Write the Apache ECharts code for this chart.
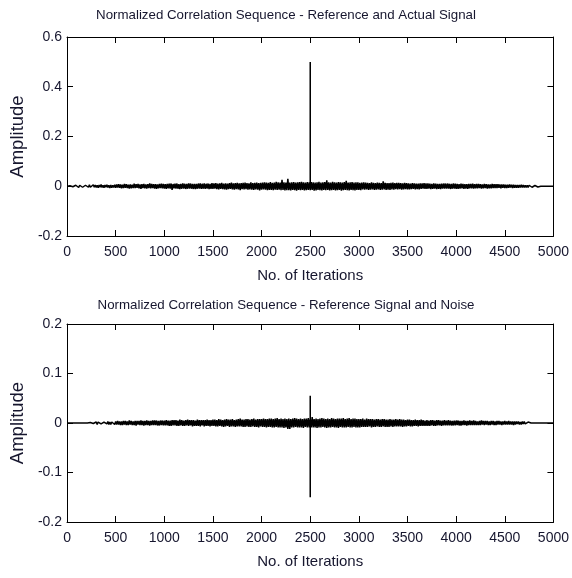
<!DOCTYPE html>
<html><head><meta charset="utf-8">
<script src="https://cdn.jsdelivr.net/npm/echarts@6/dist/echarts.min.js"></script>
<style>html,body{margin:0;padding:0;background:#fff}#c{width:572px;height:578px}</style>
</head><body><div id="c"></div>
<script>
// Iteration spacing of the read-off samples
const sampleStep = 10;
const actualNoise = [
 0.000,0.003,-0.004,0.002,-0.003,0.004,-0.002,0.005,-0.003,0.004,
 -0.004,0.003,-0.005,0.004,-0.003,0.005,-0.004,0.003,-0.006,0.004,
 -0.003,0.005,-0.004,0.006,-0.004,0.003,-0.005,0.006,-0.004,0.005,
 -0.005,0.004,-0.006,0.005,-0.004,0.007,-0.005,0.004,-0.006,0.005,
 -0.004,0.006,-0.005,0.004,-0.007,0.005,-0.006,0.004,-0.005,0.006,
 -0.006,0.007,-0.005,0.008,-0.006,0.007,-0.008,0.006,-0.007,0.009,
 -0.006,0.008,-0.007,0.006,-0.009,0.007,-0.008,0.006,-0.007,0.010,
 -0.007,0.008,-0.006,0.009,-0.008,0.007,-0.010,0.008,-0.007,0.009,
 -0.008,0.007,-0.009,0.008,-0.007,0.011,-0.008,0.009,-0.007,0.008,
 -0.009,0.008,-0.010,0.007,-0.008,0.009,-0.007,0.010,-0.008,0.009,
 -0.009,0.008,-0.010,0.009,-0.008,0.010,-0.009,0.011,-0.015,0.009,
 -0.008,0.010,-0.009,0.011,-0.010,0.008,-0.011,0.009,-0.010,0.012,
 -0.009,0.010,-0.011,0.009,-0.010,0.012,-0.009,0.011,-0.010,0.009,
 -0.011,0.010,-0.012,0.009,-0.010,0.011,-0.009,0.012,-0.011,0.010,
 -0.010,0.012,-0.011,0.010,-0.009,0.011,-0.012,0.010,-0.011,0.013,
 -0.011,0.012,-0.010,0.013,-0.012,0.011,-0.013,0.012,-0.011,0.014,
 -0.012,0.011,-0.013,0.012,-0.014,0.011,-0.012,0.013,-0.011,0.015,
 -0.013,0.012,-0.014,0.013,-0.012,0.014,-0.013,0.012,-0.016,0.013,
 -0.012,0.014,-0.013,0.015,-0.012,0.013,-0.014,0.012,-0.013,0.016,
 -0.014,0.013,-0.015,0.014,-0.013,0.015,-0.014,0.013,-0.017,0.014,
 -0.014,0.015,-0.013,0.016,-0.014,0.015,-0.016,0.014,-0.015,0.017,
 -0.015,0.014,-0.016,0.015,-0.014,0.018,-0.015,0.016,-0.014,0.015,
 -0.016,0.026,-0.015,0.016,-0.017,0.015,-0.016,0.030,-0.016,0.015,
 -0.017,0.016,-0.015,0.017,-0.016,0.015,-0.018,0.016,-0.015,0.017,
 -0.016,0.018,-0.015,0.016,-0.017,0.015,-0.016,0.017,-0.015,0.016,
 -0.016,0.017,-0.015,0.016,-0.018,0.015,-0.017,0.016,-0.015,0.018,
 -0.016,0.015,-0.017,0.016,-0.015,0.017,-0.016,0.024,-0.015,0.016,
 -0.017,0.015,-0.016,0.018,-0.015,0.016,-0.017,0.015,-0.016,0.017,
 -0.015,0.016,-0.018,0.015,-0.016,0.017,-0.015,0.022,-0.016,0.015,
 -0.017,0.016,-0.015,0.017,-0.016,0.015,-0.017,0.016,-0.015,0.016,
 -0.015,0.014,-0.016,0.015,-0.013,0.016,-0.014,0.015,-0.013,0.014,
 -0.015,0.013,-0.014,0.016,-0.013,0.014,-0.015,0.013,-0.014,0.015,
 -0.013,0.014,-0.015,0.013,-0.014,0.020,-0.013,0.014,-0.015,0.013,
 -0.014,0.013,-0.015,0.014,-0.013,0.015,-0.014,0.013,-0.012,0.014,
 -0.013,0.014,-0.012,0.013,-0.014,0.012,-0.013,0.014,-0.012,0.013,
 -0.013,0.012,-0.013,0.011,-0.012,0.013,-0.011,0.012,-0.013,0.011,
 -0.012,0.011,-0.013,0.012,-0.011,0.012,-0.010,0.013,-0.011,0.012,
 -0.011,0.012,-0.010,0.011,-0.012,0.010,-0.011,0.012,-0.010,0.011,
 -0.012,0.010,-0.011,0.010,-0.012,0.011,-0.010,0.011,-0.009,0.011,
 -0.010,0.011,-0.009,0.010,-0.011,0.009,-0.010,0.011,-0.009,0.010,
 -0.010,0.009,-0.010,0.008,-0.009,0.010,-0.008,0.009,-0.010,0.008,
 -0.009,0.008,-0.010,0.009,-0.008,0.009,-0.008,0.010,-0.009,0.008,
 -0.008,0.009,-0.008,0.009,-0.007,0.008,-0.009,0.007,-0.008,0.009,
 -0.007,0.008,-0.009,0.007,-0.008,0.007,-0.008,0.009,-0.007,0.008,
 -0.007,0.008,-0.007,0.008,-0.006,0.007,-0.008,0.007,-0.006,0.007,
 -0.007,0.006,-0.007,0.006,-0.006,0.007,-0.005,0.006,-0.007,0.006,
 -0.006,0.005,-0.006,0.005,-0.006,0.005,-0.005,0.006,-0.005,0.005,
 -0.005,0.004,-0.005,0.004,-0.005,0.004,-0.004,0.005,-0.004,0.004,
 -0.004,0.003,-0.004,0.003,-0.003,0.002,0.000,0.000,0.000,-0.005,
 0.000,0.000,0.000,0.000,0.000,0.000,0.000,0.000,0.000,0.000,
 0.000
];
const actualPeakAt = 2500;
const actualPeak = [0.5];

const noiseNoise = [
 0,0,0,0,0,0,0,0,0,0,
 0,0,0,0,0,0,0,0,0,0,
 0,0,0.002,-0.002,0.001,-0.002,0.002,-0.001,0.002,-0.002,
 0.002,-0.003,0.002,-0.002,0.003,-0.002,0.002,-0.003,0.002,-0.002,
 0.003,-0.002,0.003,-0.003,0.002,-0.003,0.002,-0.002,0.003,-0.003,
 0.003,-0.003,0.004,-0.003,0.003,-0.004,0.003,-0.004,0.004,-0.003,
 0.004,-0.004,0.003,-0.004,0.005,-0.003,0.004,-0.004,0.003,-0.004,
 0.004,-0.005,0.004,-0.003,0.004,-0.004,0.005,-0.004,0.004,-0.005,
 0.004,-0.004,0.005,-0.004,0.004,-0.005,0.004,-0.004,0.005,-0.004,
 0.005,-0.004,0.005,-0.005,0.004,-0.005,0.005,-0.004,0.005,-0.005,
 0.005,-0.005,0.006,-0.005,0.005,-0.006,0.005,-0.006,0.006,-0.005,
 0.006,-0.005,0.006,-0.006,0.005,-0.006,0.007,-0.005,0.006,-0.006,
 0.005,-0.006,0.006,-0.005,0.007,-0.006,0.006,-0.005,0.006,-0.007,
 0.006,-0.006,0.005,-0.006,0.007,-0.006,0.006,-0.007,0.006,-0.005,
 0.006,-0.007,0.006,-0.006,0.007,-0.006,0.006,-0.007,0.006,-0.006,
 0.007,-0.006,0.007,-0.007,0.006,-0.007,0.008,-0.006,0.007,-0.007,
 0.006,-0.008,0.007,-0.007,0.008,-0.006,0.007,-0.008,0.007,-0.007,
 0.008,-0.007,0.006,-0.008,0.007,-0.007,0.008,-0.007,0.009,-0.007,
 0.007,-0.008,0.007,-0.008,0.008,-0.007,0.008,-0.008,0.007,-0.008,
 0.008,-0.007,0.009,-0.008,0.007,-0.008,0.008,-0.009,0.008,-0.007,
 0.008,-0.008,0.009,-0.008,0.008,-0.009,0.008,-0.008,0.009,-0.008,
 0.009,-0.009,0.008,-0.009,0.009,-0.008,0.010,-0.009,0.008,-0.009,
 0.009,-0.009,0.008,-0.010,0.009,-0.009,0.008,-0.012,0.009,-0.012,
 0.008,-0.009,0.009,-0.009,0.010,-0.008,0.009,-0.009,0.008,-0.009,
 0.009,-0.009,0.008,-0.010,0.009,-0.008,0.009,-0.009,0.010,-0.009,
 0.009,-0.009,0.012,-0.009,0.008,-0.009,0.009,-0.010,0.008,-0.009,
 0.009,-0.009,0.010,-0.008,0.009,-0.009,0.008,-0.010,0.009,-0.009,
 0.008,-0.009,0.010,-0.008,0.009,-0.009,0.008,-0.009,0.009,-0.010,
 0.009,-0.008,0.009,-0.009,0.010,-0.009,0.008,-0.009,0.009,-0.008,
 0.010,-0.009,0.008,-0.009,0.009,-0.008,0.009,-0.009,0.008,-0.009,
 0.008,-0.009,0.008,-0.008,0.009,-0.008,0.007,-0.008,0.009,-0.008,
 0.008,-0.007,0.008,-0.009,0.008,-0.008,0.007,-0.008,0.008,-0.007,
 0.008,-0.008,0.007,-0.008,0.008,-0.007,0.008,-0.008,0.007,-0.008,
 0.007,-0.008,0.008,-0.007,0.007,-0.008,0.007,-0.007,0.008,-0.007,
 0.007,-0.007,0.008,-0.007,0.007,-0.008,0.007,-0.007,0.006,-0.007,
 0.007,-0.006,0.007,-0.007,0.006,-0.007,0.006,-0.006,0.007,-0.006,
 0.006,-0.007,0.006,-0.006,0.007,-0.006,0.006,-0.006,0.005,-0.006,
 0.006,-0.006,0.005,-0.006,0.006,-0.005,0.006,-0.006,0.005,-0.006,
 0.006,-0.005,0.006,-0.005,0.005,-0.006,0.005,-0.005,0.006,-0.005,
 0.005,-0.005,0.006,-0.005,0.005,-0.005,0.004,-0.005,0.005,-0.005,
 0.005,-0.004,0.005,-0.005,0.004,-0.005,0.004,-0.004,0.005,-0.004,
 0.004,-0.005,0.004,-0.004,0.005,-0.004,0.004,-0.004,0.005,-0.004,
 0.004,-0.004,0.003,-0.004,0.004,-0.004,0.005,-0.003,0.004,-0.004,
 0.004,-0.003,0.004,-0.004,0.003,-0.004,0.004,-0.003,0.004,-0.004,
 0.003,-0.004,0.004,-0.003,0.004,-0.003,0.003,-0.004,0.003,-0.003,
 0.004,-0.003,0.003,-0.003,0.004,-0.003,0.003,-0.003,0.003,-0.004,
 0.003,-0.003,0.003,-0.002,0.003,-0.003,0.002,-0.003,0.003,-0.002,
 0.003,-0.002,0.002,-0.003,0.002,-0.002,0.001,0,0,0,
 0,0,0,0,0,0,0,0,0,0,
 0,0,0,0,0,0,0,0,0,0,
 0
];
const noisePeakAt = 2500;
const noisePeak = [0.055, -0.15];

const titles = ['Normalized Correlation Sequence - Reference and Actual Signal',
                'Normalized Correlation Sequence - Reference Signal and Noise'];
const xLabel = 'No. of Iterations';
const yLabel = 'Amplitude';
const xTicks = [0, 500, 1000, 1500, 2000, 2500, 3000, 3500, 4000, 4500, 5000];
const yTicksTop = [-0.2, 0, 0.2, 0.4, 0.6];
const yTicksBottom = [-0.2, -0.1, 0, 0.1, 0.2];

function build(vals, peakAt, peaks) {
  const out = [];
  vals.forEach((v, i) => {
    const x = i * sampleStep;
    out.push([x, v]);
    if (x === peakAt) {
      peaks.forEach(p => out.push([x, p]));
      out.push([x, v]);
    }
  });
  return out;
}

const FONT = '"Liberation Sans Narrow", "Arial Narrow", "Liberation Sans", Arial, sans-serif';
const TXT = '#16162e';
const grids = [
  {left: 66, right: 16, top: 37, height: 199},
  {left: 66, right: 16, top: 324, height: 198}
];
const lineStyle = {color: '#000', width: 1};
function xAxes(g) {
  const base = {type: 'value', gridIndex: g, min: xTicks[0], max: xTicks[xTicks.length-1],
    interval: xTicks[1]-xTicks[0], splitLine: {show: false},
    axisLine: {show: true, onZero: false, lineStyle}, axisTick: {show: true, inside: true, length: 6, lineStyle}};
  return [
    Object.assign({}, base, {position: 'bottom', name: xLabel, nameLocation: 'middle', nameGap: 32,
      nameTextStyle: {fontFamily: FONT, fontSize: 15, color: TXT},
      axisLabel: {fontFamily: FONT, fontSize: 14, color: TXT, margin: 9, formatter: v => String(v)}}),
    Object.assign({}, base, {position: 'top', axisLabel: {show: false}})
  ];
}
function yAxes(g, ticks) {
  const base = {type: 'value', gridIndex: g, min: ticks[0], max: ticks[ticks.length-1],
    interval: +(ticks[1]-ticks[0]).toFixed(3), splitLine: {show: false},
    axisLine: {show: true, onZero: false, lineStyle}, axisTick: {show: true, inside: true, length: 6, lineStyle}};
  return [
    Object.assign({}, base, {position: 'left', name: yLabel, nameLocation: 'middle', nameGap: 36,
      nameTextStyle: {fontFamily: FONT, fontSize: 18.5, color: TXT},
      axisLabel: {fontFamily: FONT, fontSize: 14, color: TXT, margin: 5,
        formatter: v => String(+v.toFixed(2))}}),
    Object.assign({}, base, {position: 'right', axisLabel: {show: false}})
  ];
}

const chart = echarts.init(document.getElementById('c'), null, {renderer: 'canvas'});
chart.setOption({
  animation: false,
  backgroundColor: '#fff',
  title: [
    {text: titles[0], left: 'center', top: 4, textStyle: {fontFamily: FONT, fontSize: 13.3, fontWeight: 'normal', color: TXT}},
    {text: titles[1], left: 'center', top: 294, textStyle: {fontFamily: FONT, fontSize: 13.3, fontWeight: 'normal', color: TXT}}
  ],
  grid: grids,
  xAxis: [...xAxes(0), ...xAxes(1)],
  yAxis: [...yAxes(0, yTicksTop), ...yAxes(1, yTicksBottom)],
  series: [
    {type: 'line', xAxisIndex: 0, yAxisIndex: 0, data: build(actualNoise, actualPeakAt, actualPeak),
      showSymbol: false, symbol: 'none', lineStyle: {color: '#000', width: 1.5}, sampling: 'none'},
    {type: 'line', xAxisIndex: 2, yAxisIndex: 2, data: build(noiseNoise, noisePeakAt, noisePeak),
      showSymbol: false, symbol: 'none', lineStyle: {color: '#000', width: 1.5}, sampling: 'none'}
  ]
});
</script></body></html>
